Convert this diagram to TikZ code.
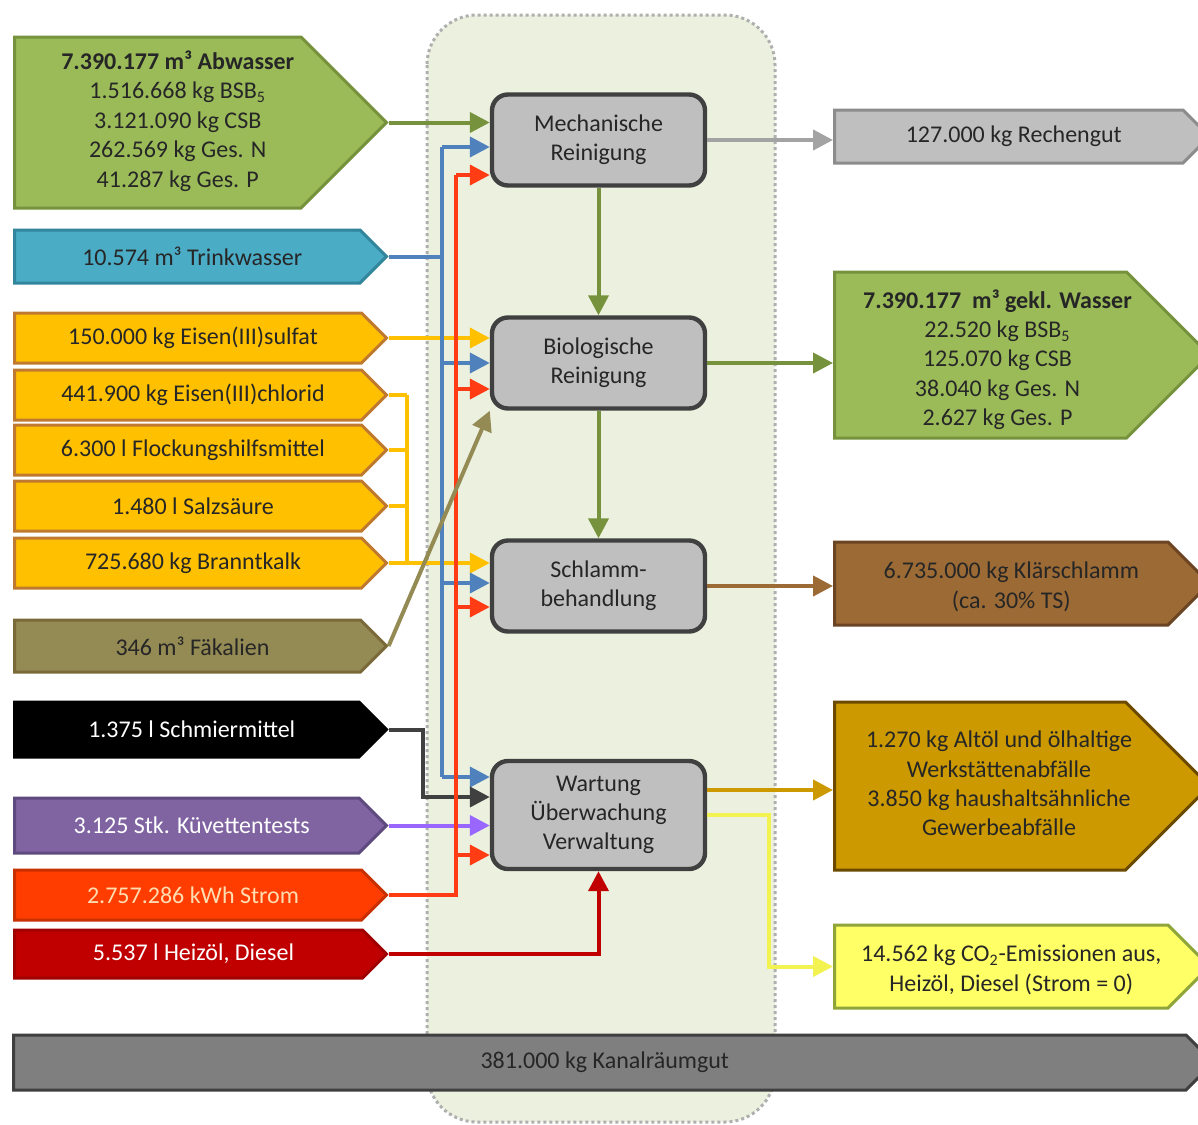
\documentclass[tikz,border=0pt]{standalone}
\usepackage{fontspec}
\setmainfont{Carlito}
\usetikzlibrary{shapes.symbols,arrows.meta}
\definecolor{gruen}{HTML}{9BBB59}
\definecolor{gruendk}{HTML}{76923C}
\definecolor{tuerkis}{HTML}{4BACC6}
\definecolor{tuerkisdk}{HTML}{31859C}
\definecolor{orangef}{HTML}{FFC000}
\definecolor{orangedk}{HTML}{BF7A30}
\definecolor{khakif}{HTML}{948A54}
\definecolor{khakidk}{HTML}{7A6A3A}
\definecolor{lilaf}{HTML}{8064A2}
\definecolor{liladk}{HTML}{5F4A80}
\definecolor{stromf}{HTML}{FF3D00}
\definecolor{stromdk}{HTML}{C83000}
\definecolor{stromtxt}{HTML}{FFDDB0}
\definecolor{heizf}{HTML}{C00000}
\definecolor{heizdk}{HTML}{A00000}
\definecolor{hellgrau}{HTML}{BFBFBF}
\definecolor{mittelgrau}{HTML}{8C8C8C}
\definecolor{braunf}{HTML}{9C6A35}
\definecolor{braundk}{HTML}{6B4423}
\definecolor{goldf}{HTML}{CC9900}
\definecolor{golddk}{HTML}{6B4A00}
\definecolor{gelbf}{HTML}{FFFF66}
\definecolor{gelbdk}{HTML}{8FA53A}
\definecolor{gelbln}{HTML}{F2F250}
\definecolor{kanalf}{HTML}{7F7F7F}
\definecolor{kanaldk}{HTML}{3F3F3F}
\definecolor{boxrand}{HTML}{404040}
\definecolor{bereichf}{HTML}{EBF1DE}
\definecolor{blauln}{HTML}{4F81BD}
\definecolor{rotln}{HTML}{FF3C14}
\definecolor{lilaln}{HTML}{9966FF}
\definecolor{textdk}{HTML}{262626}
\tikzset{every path/.style={semithick}}
\tikzset{
  flow/.style={line width=2pt,-{Triangle[length=10pt,width=10pt]}},
  bus/.style={line width=2pt},
  sig/.style={signal,signal to=east,signal pointer angle=90,line width=1.5pt,
    anchor=west,align=center,inner sep=2pt,text=textdk,
    font=\fontsize{12}{14.7}\selectfont},
  stufe/.style={draw=boxrand,fill=hellgrau,line width=2.2pt,rounded corners=8pt,
    minimum width=106.5pt,minimum height=45.5pt,align=center,text=textdk,
    font=\fontsize{12}{14.5}\selectfont},
}
\begin{document}
\begin{tikzpicture}[x=0.5pt,y=-0.5pt]
  \useasboundingbox (0,0) rectangle (1198,1124);
  \fill[white] (0,0) rectangle (1198,1124);
  \draw[fill=bereichf,draw=mittelgrau!70,line width=1.5pt,dash pattern=on 1.5pt off 1.5pt,
    rounded corners=25pt] (427,15) rectangle (775,1122);

  \node[stufe] (mech) at (598.5,140) {Mechanische\\Reinigung};
  \node[stufe] (bio) at (598.5,363) {Biologische\\Reinigung};
  \node[stufe] (schlamm) at (598.5,586) {Schlamm-\\behandlung};
  \node[stufe,minimum height=54pt] (wartung) at (598.5,815) {Wartung\\Überwachung\\Verwaltung};

  \node[sig,fill=gruen,draw=gruendk,minimum width=186pt,minimum height=85.5pt] (abw) at (13,122.5)
    {\begin{tabular}{@{\hspace{20pt}}c@{}}\textbf{7.390.177 m³ Abwasser}\\1.516.668 kg BSB\textsubscript{5}\\3.121.090 kg CSB\\262.569 kg Ges. N\\41.287 kg Ges. P\end{tabular}};
  \node[sig,fill=tuerkis,draw=tuerkisdk,minimum width=186pt,minimum height=26.5pt] (trink) at (13,256.5) {\hspace*{5pt}10.574 m³ Trinkwasser};
  \node[sig,fill=orangef,draw=orangedk,minimum width=186pt,minimum height=25pt] (sulfat) at (13,338) {\hspace*{5pt}150.000 kg Eisen(III)sulfat};
  \node[sig,fill=orangef,draw=orangedk,minimum width=186pt,minimum height=25pt] (chlorid) at (13,395) {\hspace*{5pt}441.900 kg Eisen(III)chlorid};
  \node[sig,fill=orangef,draw=orangedk,minimum width=186pt,minimum height=25pt] (flock) at (13,450) {\hspace*{5pt}6.300 l Flockungshilfsmittel};
  \node[sig,fill=orangef,draw=orangedk,minimum width=186pt,minimum height=25pt] (salz) at (13,506) {\hspace*{5pt}1.480 l Salzsäure};
  \node[sig,fill=orangef,draw=orangedk,minimum width=186pt,minimum height=25pt] (kalk) at (13,563) {\hspace*{5pt}725.680 kg Branntkalk};
  \node[sig,fill=khakif,draw=khakidk,minimum width=186pt,minimum height=26pt] (faek) at (13,646) {\hspace*{5pt}346 m³ Fäkalien};
  \node[sig,fill=black,draw=black,text=white,minimum width=186pt,minimum height=27.5pt] (schmier) at (13,729.5) {\hspace*{5pt}1.375 l Schmiermittel};
  \node[sig,fill=lilaf,draw=liladk,text=white,minimum width=186pt,minimum height=27.5pt] (kuev) at (13,825.5) {\hspace*{5pt}3.125 Stk. Küvettentests};
  \node[sig,fill=stromf,draw=stromdk,text=stromtxt,minimum width=186pt,minimum height=25pt] (strom) at (13,895) {\hspace*{5pt}2.757.286 kWh Strom};
  \node[sig,fill=heizf,draw=heizdk,text=white,minimum width=186pt,minimum height=24pt] (heiz) at (13,954) {\hspace*{5pt}5.537 l Heizöl, Diesel};

  \node[sig,fill=hellgrau,draw=mittelgrau,minimum width=187.5pt,minimum height=26.5pt] (rechen) at (833,136.5) {\hspace*{5pt}127.000 kg Rechengut};
  \node[sig,fill=gruen,draw=gruendk,minimum width=187.5pt,minimum height=83pt] (wasser) at (833,355)
    {\begin{tabular}{@{\hspace{12pt}}c@{\hspace{-5pt}}}\textbf{7.390.177~~m³ gekl. Wasser}\\22.520 kg BSB\textsubscript{5}\\125.070 kg CSB\\38.040 kg Ges. N\\2.627 kg Ges. P\\[-6pt]\end{tabular}};
  \node[sig,fill=braunf,draw=braundk,minimum width=187.5pt,minimum height=41.5pt] (klaer) at (833,583.5)
    {\begin{tabular}{@{\hspace{10pt}}c@{}}6.735.000 kg Klärschlamm\\(ca. 30\% TS)\\[-4pt]\end{tabular}};
  \node[sig,fill=goldf,draw=golddk,minimum width=187.5pt,minimum height=84pt] (altoel) at (833,786)
    {\begin{tabular}{@{\hspace{12pt}}c@{\hspace{-7pt}}}1.270 kg Altöl und ölhaltige\\Werkstättenabfälle\\3.850 kg haushaltsähnliche\\Gewerbeabfälle\end{tabular}};
  \node[sig,fill=gelbf,draw=gelbdk,minimum width=187.5pt,minimum height=41.5pt] (co2) at (833,966.5)
    {\begin{tabular}{@{\hspace{10pt}}c@{}}14.562 kg CO\textsubscript{2}-Emissionen aus,\\Heizöl, Diesel (Strom = 0)\\[-4pt]\end{tabular}};
  \node[sig,fill=kanalf,draw=kanaldk,minimum width=600pt,minimum height=27.5pt] (kanal) at (12,1062.5) {\hspace*{5pt}381.000 kg Kanalräumgut};

  \coordinate (orx) at (407,0);
  \coordinate (blackx) at (423,0);
  \coordinate (bluex) at (442,0);
  \coordinate (redx) at (456,0);
  \coordinate (gelbx) at (769,0);
  \coordinate (mB) at ([yshift=-3.5pt]mech.west);
  \coordinate (mR) at ([yshift=-17.5pt]mech.west);
  \coordinate (bB) at ([yshift=0pt]bio.west);
  \coordinate (bR) at ([yshift=-13pt]bio.west);
  \coordinate (sB) at ([yshift=1.5pt]schlamm.west);
  \coordinate (sR) at ([yshift=-10.5pt]schlamm.west);
  \coordinate (wB) at ([yshift=19pt]wartung.west);
  \coordinate (wK) at ([yshift=9pt]wartung.west);
  \coordinate (wR) at ([yshift=-20pt]wartung.west);
  \coordinate (wA) at ([yshift=12.5pt]wartung.east);

  \draw[flow,gruendk] (abw.east) -- (abw.east -| mech.west);
  \draw[flow,orangef] (sulfat.east) -- (sulfat.east -| bio.west);
  \foreach \n in {chlorid,flock,salz}
    \draw[bus,orangef] (\n.east) -- (\n.east -| orx);
  \draw[bus,orangef] (chlorid.east -| orx) -- (kalk.east -| orx);
  \draw[flow,orangef] (kalk.east) -- (kalk.east -| schlamm.west);

  \draw[bus,blauln] (trink.east) -- (trink.east -| bluex);
  \draw[bus,blauln] (mB -| bluex) -- (wB -| bluex);
  \foreach \p in {mB,bB,sB,wB}
    \draw[flow,blauln] (\p -| bluex) -- (\p);

  \draw[flow,boxrand] (schmier.east) -- (schmier.east -| blackx) |- (wK);
  \draw[flow,lilaln] (kuev.east) -- (kuev.east -| wartung.west);

  \draw[bus,rotln] (strom.east) -- (strom.east -| redx) -- (mR -| redx);
  \foreach \p in {mR,bR,sR,wR}
    \draw[flow,rotln] (\p -| redx) -- (\p);

  \draw[flow,khakif] (faek.east) -- (bio.south west);
  \draw[flow,heizf] (heiz.east) -| (wartung.south);

  \draw[flow,gruendk] (mech.south) -- (bio.north);
  \draw[flow,gruendk] (bio.south) -- (schlamm.north);
  \draw[flow,mittelgrau!80] (mech.east) -- (mech.east -| rechen.west);
  \draw[flow,gruendk] (bio.east) -- (bio.east -| wasser.west);
  \draw[flow,braunf] (schlamm.east) -- (schlamm.east -| klaer.west);
  \draw[flow,goldf] (wA) -- (wA -| altoel.west);
  \draw[flow,gelbln] (wartung.east) -- (wartung.east -| gelbx) |- (co2.west);
\end{tikzpicture}
\end{document}
